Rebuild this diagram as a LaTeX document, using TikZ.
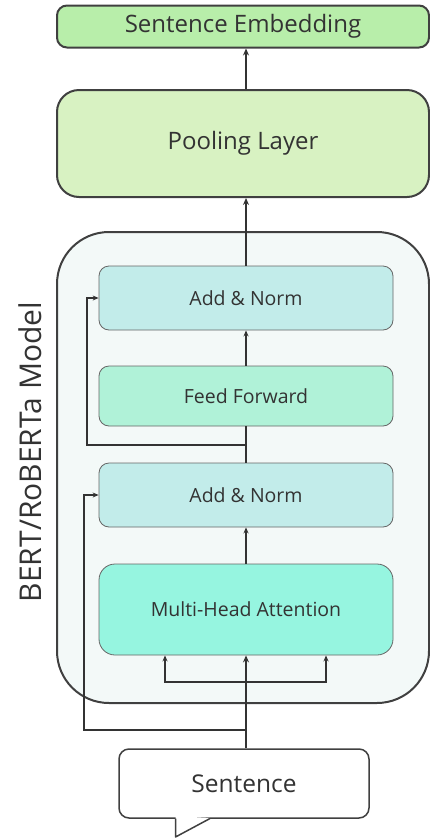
\documentclass[tikz,border=0pt]{standalone}
\usepackage{fontspec}
\setmainfont{Open Sans}
\usetikzlibrary{arrows.meta}

\definecolor{embfill}{HTML}{B8EEAA}
\definecolor{poolfill}{HTML}{D8F2C2}
\definecolor{modelfill}{HTML}{F3F9F8}
\definecolor{normfill}{HTML}{C2ECEA}
\definecolor{fffill}{HTML}{B0F2D8}
\definecolor{attnfill}{HTML}{96F5E0}
\definecolor{edge}{HTML}{404040}
\definecolor{ink}{HTML}{333333}

\begin{document}
\begin{tikzpicture}[
  x=1pt, y=-1pt,
  outer/.style={draw=edge, line width=2pt, rounded corners=10pt, text=ink, font=\fontsize{24}{28}\selectfont},
  layer/.style={draw=gray!80!black, line width=0.8pt, rounded corners=10pt, text=ink,
    minimum width=294pt, font=\fontsize{19.5}{23}\selectfont},
  arr/.style={draw=ink, line width=1.5pt, -{Stealth[length=7pt,width=6pt]}},
  thinarr/.style={draw=ink, line width=1.1pt, -{Stealth[length=6pt,width=5pt]}},
  link/.style={draw=ink, line width=1.5pt}
]
\useasboundingbox (0,0) rectangle (430,839);

% outer model block
\node[outer, fill=modelfill, rounded corners=52pt, minimum width=372pt, minimum height=471pt] (model) at (243,467.5) {};
\node[rotate=90, text=ink, font=\fontsize{30}{34}\selectfont] (modellabel) at (30,452) {BERT/RoBERTa Model};

% top blocks
\node[outer, fill=embfill, minimum width=372pt, minimum height=42pt] (emb) at (243,26.5) {Sentence Embedding};
\node[outer, fill=poolfill, rounded corners=22pt, minimum width=372pt, minimum height=107pt] (pool) at (243,143.5) {Pooling Layer};

% encoder layers
\node[layer, fill=normfill, minimum height=64pt] (norm1) at (246,298) {Add \& Norm};
\node[layer, fill=fffill, minimum height=60pt] (ff) at (246,396) {Feed Forward};
\node[layer, fill=normfill, minimum height=64pt] (norm2) at (246,495) {Add \& Norm};
\node[layer, fill=attnfill, rounded corners=16pt, minimum height=91pt] (attn) at (246,609.5) {Multi-Head Attention};

% input
\node[draw=edge, line width=1.5pt, fill=white, rounded corners=10pt, text=ink,
  minimum width=250pt, minimum height=69pt, font=\fontsize{24.5}{28}\selectfont] (sent) at (244,783.5) {Sentence};
\fill[white] (175.5,816) -- (175.5,837) -- (210,818) -- cycle;
\draw[edge, line width=1.5pt, line join=round] (175.5,818.5) -- (175.5,837) -- (210,818.5);

% connectors
\coordinate (split) at (246,682);
\coordinate (res1) at (246,730);
\coordinate (res2) at (246,445);
\draw[arr] (sent.north -| attn.south) -- (attn.south);
\draw[thinarr] (split) -| ([xshift=-81pt]attn.south);
\draw[thinarr] (split) -| ([xshift=80pt]attn.south);
\draw[thinarr] (res1) -- ++(-162,0) |- (norm2.west);
\draw[thinarr] (attn.north) -- (norm2.south);
\draw[link] (norm2.north) -- (ff.south);
\draw[thinarr] (res2) -- ++(-159,0) |- (norm1.west);
\draw[thinarr] (ff.north) -- (norm1.south);
\draw[arr] (norm1.north) -- (norm1.north |- pool.south);
\draw[arr] (norm1.north |- pool.north) -- (norm1.north |- emb.south);

\end{tikzpicture}
\end{document}
